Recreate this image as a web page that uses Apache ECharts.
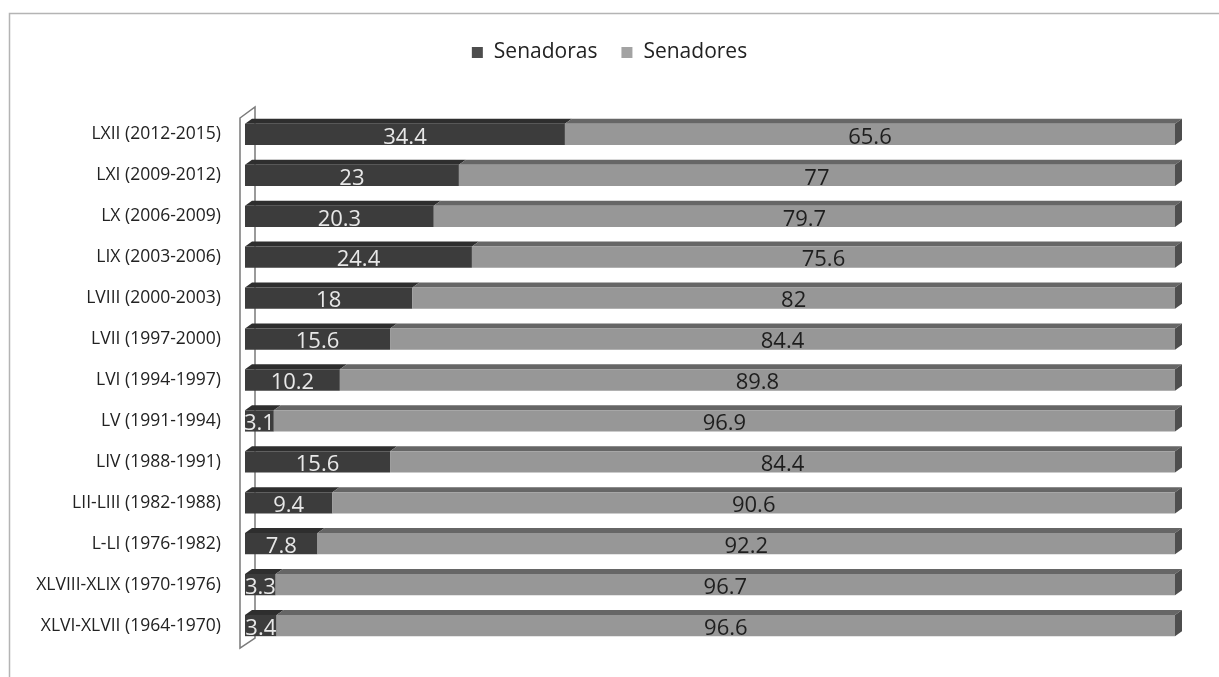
<!DOCTYPE html>
<html><head><meta charset="utf-8">
<script src="https://cdn.jsdelivr.net/npm/echarts@6/dist/echarts.min.js"></script>
<style>html,body{margin:0;padding:0;background:#fff}#c{width:1219px;height:677px}</style>
</head><body><div id="c"></div><script>
const categories = ['LXII (2012-2015)','LXI (2009-2012)','LX (2006-2009)','LIX (2003-2006)','LVIII (2000-2003)','LVII (1997-2000)','LVI (1994-1997)','LV (1991-1994)','LIV (1988-1991)','LII-LIII (1982-1988)','L-LI (1976-1982)','XLVIII-XLIX (1970-1976)','XLVI-XLVII (1964-1970)'];
const senadoras = [34.4, 23, 20.3, 24.4, 18, 15.6, 10.2, 3.1, 15.6, 9.4, 7.8, 3.3, 3.4];
const senadores = [65.6, 77, 79.7, 75.6, 82, 84.4, 89.8, 96.9, 84.4, 90.6, 92.2, 96.7, 96.6];

const FONT = '"Open Sans", "Noto Sans", sans-serif';
const chart = echarts.init(document.getElementById('c'), null, {renderer: 'canvas'});
const DX = 7, DY = 5, BAR = 0.52;

const depthData = categories.map((c, i) => [i, senadoras[i], senadores[i]]);

chart.setOption({
  animation: false,
  backgroundColor: '#fff',
  graphic: [
    {type: 'rect', z: 0, shape: {x: 9.5, y: 13.5, width: 1400, height: 900},
     style: {fill: 'none', stroke: '#b4b4b4', lineWidth: 1.5}},
    {type: 'polygon', z: 0, shape: {points: [[240, 118], [255, 107], [255, 638], [240, 648]]},
     style: {fill: '#fff', stroke: '#7a7a7a', lineWidth: 1.5}}
  ],
  legend: {
    top: 37, left: 'center',
    itemWidth: 11, itemHeight: 11, itemGap: 24,
    icon: 'rect',
    textStyle: {fontFamily: FONT, fontSize: 21, color: '#222', padding: [0, 0, 0, 6]},
    data: [{name: 'Senadoras', itemStyle: {color: '#4d4d4d'}},
           {name: 'Senadores', itemStyle: {color: '#a3a3a3'}}]
  },
  grid: {left: 245, right: 44, top: 114, bottom: 31, containLabel: false},
  xAxis: {type: 'value', min: 0, max: 100, show: false},
  yAxis: {
    type: 'category', data: categories, inverse: true,
    axisLine: {show: false}, axisTick: {show: false},
    axisLabel: {margin: 24, fontFamily: FONT, fontSize: 17.5, color: '#222'}
  },
  series: [
    {
      name: 'Senadoras', type: 'bar', stack: 't', barWidth: '52%', z: 3,
      data: senadoras,
      itemStyle: {color: '#3c3c3c'},
      label: {show: true, position: 'inside', offset: [0, 3], color: '#e8e8e8',
              fontFamily: FONT, fontSize: 22}
    },
    {
      name: 'Senadores', type: 'bar', stack: 't', barWidth: '52%', z: 3,
      data: senadores,
      itemStyle: {color: '#979797'},
      label: {show: true, position: 'inside', offset: [0, 3], color: '#1e1e1e',
              fontFamily: FONT, fontSize: 22}
    },
    {
      name: 'depth', type: 'custom', z: 2, silent: true,
      encode: {y: 0, x: [1, 2]},
      data: depthData,
      renderItem: function (params, api) {
        const idx = api.value(0), a = api.value(1), b = api.value(2);
        const p0 = api.coord([0, idx]);
        const p1 = api.coord([a, idx]);
        const p2 = api.coord([a + b, idx]);
        const h = api.size([0, 1])[1] * BAR;
        const yT = p0[1] - h / 2, yB = p0[1] + h / 2;
        return {type: 'group', children: [
          {type: 'polygon', shape: {points: [[p0[0], yT], [p1[0], yT], [p1[0] + DX, yT - DY], [p0[0] + DX, yT - DY]]},
           style: {fill: '#2e2e2e'}},
          {type: 'polygon', shape: {points: [[p1[0], yT], [p2[0], yT], [p2[0] + DX, yT - DY], [p1[0] + DX, yT - DY]]},
           style: {fill: '#666666'}},
          {type: 'polygon', shape: {points: [[p2[0], yT], [p2[0] + DX, yT - DY], [p2[0] + DX, yB - DY], [p2[0], yB]]},
           style: {fill: '#4e4e4e'}}
        ]};
      }
    }
  ]
});
</script></body></html>
